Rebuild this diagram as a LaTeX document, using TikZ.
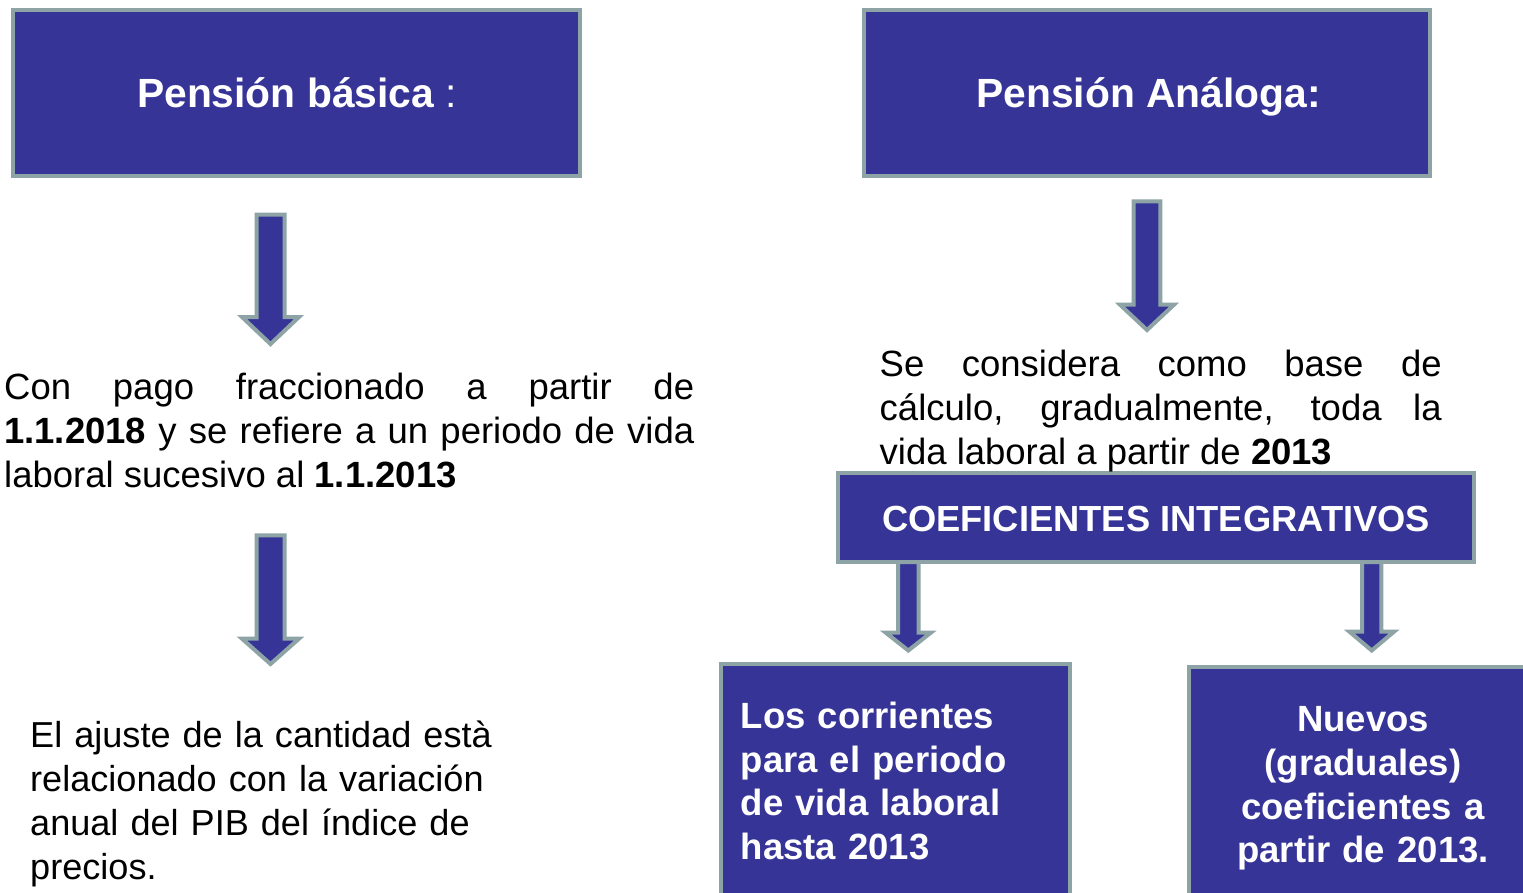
\documentclass[tikz,border=0pt]{standalone}
\usepackage{fontspec}
\setmainfont{Liberation Sans}
\usetikzlibrary{calc}
\definecolor{boxfill}{RGB}{54,52,151}
\definecolor{boxline}{RGB}{141,163,165}
\tikzset{
  bluebox/.style={draw=boxline, fill=boxfill, line width=4pt, rectangle, inner sep=0pt, outer sep=0pt},
  blockarr/.style={draw=boxline, fill=boxfill, line width=4pt, line join=miter},
  titletext/.style={text=white, font=\fontsize{40.8}{48}\selectfont\bfseries, inner sep=0pt, anchor=base},
  bodytext/.style={text=black, font=\fontsize{36.5}{44}\selectfont, inner sep=0pt, anchor=north west},
  boxtext/.style={text=white, font=\fontsize{36.5}{43.7}\selectfont\bfseries, inner sep=0pt},
}
% #1 start coordinate, #2 tip coordinate, #3 shaft half width, #4 head half width, #5 head length
\newcommand{\blockarrow}[5]{%
  \draw[blockarr] let \p1=(#1), \p2=(#2) in
    (\x1-#3pt,\y1) -- (\x1+#3pt,\y1) -- (\x1+#3pt,\y2+#5pt) -- (\x1+#4pt,\y2+#5pt)
    -- (\x1,\y2) -- (\x1-#4pt,\y2+#5pt) -- (\x1-#3pt,\y2+#5pt) -- cycle;}
\begin{document}
\begin{tikzpicture}[x=1pt,y=-1pt]
\useasboundingbox (0,0) rectangle (1523,893);
\clip (0,0) rectangle (1523,893);
\fill[white] (0,0) rectangle (1523,893);

% boxes
\node[bluebox, minimum width=567pt, minimum height=166pt] (basica) at (296.5,93) {};
\node[bluebox, minimum width=566pt, minimum height=166pt] (analoga) at (1147,93) {};
\node[bluebox, minimum width=636pt, minimum height=89pt] (coef) at (1156,517.5) {};
\node[bluebox, minimum width=349pt, minimum height=256pt] (corr) at (895.5,792) {};
\node[bluebox, minimum width=356pt, minimum height=253pt] (nuevos) at (1367,793.5) {};

% arrow end points
\coordinate (a1s) at (270.5,214.7);  \coordinate (a1e) at (270.5,344);
\coordinate (a2s) at (1147,201.3);   \coordinate (a2e) at (1147,330);
\coordinate (a3s) at (270.5,535.3);  \coordinate (a3e) at (270.5,664);
\coordinate (a4s) at (908.3,562);    \coordinate (a4e) at (908.3,650.5);
\coordinate (a5s) at (1371.7,562);   \coordinate (a5e) at (1371.7,650.5);

\blockarrow{a1s}{a1e}{14}{28.5}{27}
\blockarrow{a2s}{a2e}{13.3}{27}{25.3}
\blockarrow{a3s}{a3e}{14}{28.5}{25.3}
\blockarrow{a4s}{a4e}{10.3}{22.5}{17.8}
\blockarrow{a5s}{a5e}{9.7}{22.5}{19}

% titles
\node[titletext] (basicat) at (297,107.7) {Pensión básica\mdseries{} :};
\node[titletext] (analogat) at (1148.5,107.7) {Pensión Análoga:};
\node[text=white, font=\fontsize{36.3}{42}\selectfont\bfseries, inner sep=0pt, anchor=base] (coeft) at (1156,531.7) {COEFICIENTES INTEGRATIVOS};

% body texts
\node[bodytext, text width=690pt, align=justify] (t1) at (4,368.5)
  {\noindent\strut Con pago fraccionado a partir de\linebreak
   \textbf{1.1.2018} y se refiere a un periodo de vida\linebreak
   laboral sucesivo al \textbf{1.1.2013}};
\node[bodytext, text width=562pt, align=justify] (t2) at (879.5,345.9)
  {\noindent\strut Se considera como base de\linebreak
   cálculo, gradualmente, toda la\linebreak
   vida laboral a partir de \textbf{2013}};
\node[bodytext, font=\fontsize{36.1}{44}\selectfont, text width=520pt, align=left] (t3) at (30,716.2)
  {\strut El ajuste de la cantidad està\\
   relacionado con la variación\\
   anual del PIB del índice de\\
   precios.};

% box texts
\node[boxtext, anchor=north west, text width=330pt, align=left] (corrt) at (740.5,697.7)
  {\strut Los corrientes\\ para el periodo\\ de vida laboral\\ hasta 2013};
\node[boxtext, anchor=north, text width=340pt, align=center] (nuevost) at (1363,701.1)
  {\strut Nuevos\\ (graduales)\\ coeficientes a\\ partir de 2013.};
\end{tikzpicture}
\end{document}
